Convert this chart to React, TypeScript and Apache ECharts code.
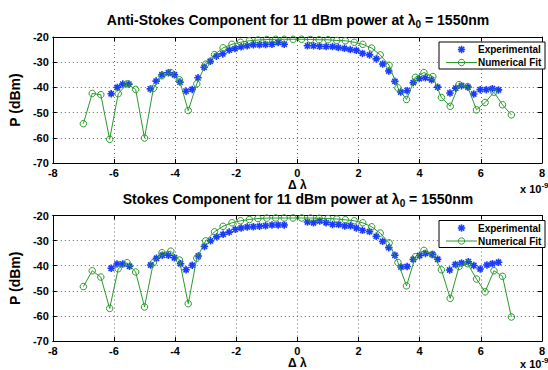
import React, { useEffect, useRef } from 'react';
import * as echarts from 'echarts';

// Δλ positions (×1e-9) of the numerical fit (50 points)
const fitX = [-7.0, -6.71, -6.43, -6.14, -5.86, -5.57, -5.29, -5.0, -4.71, -4.43, -4.14, -3.86, -3.57, -3.29, -3.0, -2.71, -2.43, -2.14, -1.86, -1.57, -1.29, -1.0, -0.71, -0.43, -0.14, 0.14, 0.43, 0.71, 1.0, 1.29, 1.57, 1.86, 2.14, 2.43, 2.71, 3.0, 3.29, 3.57, 3.86, 4.14, 4.43, 4.71, 5.0, 5.29, 5.57, 5.86, 6.14, 6.43, 6.71, 7.0];

const antiFitY = [-54.4, -42.4, -42.9, -60.6, -42.5, -38.6, -40.8, -60.1, -40.4, -35.4, -34.1, -37.0, -49.2, -38.6, -30.8, -27.0, -24.3, -22.9, -22.1, -21.5, -21.2, -21.0, -20.9, -20.9, -20.9, -20.9, -21.0, -21.1, -21.1, -21.4, -21.5, -22.1, -22.9, -24.4, -27.1, -31.2, -40.2, -44.8, -36.0, -34.1, -35.7, -44.0, -47.5, -38.9, -39.7, -48.9, -46.0, -41.9, -46.9, -50.9];

const stokesFitY = [-48.3, -42.0, -44.5, -57.0, -41.2, -38.8, -42.5, -56.4, -38.8, -34.8, -34.2, -37.7, -55.1, -37.0, -30.1, -26.5, -24.3, -22.9, -22.1, -21.6, -21.2, -21.05, -21.0, -21.0, -21.0, -21.0, -21.0, -21.1, -21.2, -21.4, -21.7, -22.1, -22.9, -24.5, -27.0, -30.9, -38.7, -48.0, -36.4, -33.9, -35.5, -41.6, -53.0, -40.3, -39.2, -45.3, -50.4, -42.0, -44.2, -60.4];

const antiExpX = [-6.09, -5.89, -5.71, -5.51, -4.81, -4.62, -4.43, -4.22, -4.02, -3.84, -3.64, -3.44, -3.25, -3.05, -2.85, -2.65, -2.44, -2.23, -2.04, -1.84, -1.64, -1.44, -1.24, -1.04, -0.83, -0.63, -0.43, 0.33, 0.53, 0.73, 0.94, 1.15, 1.34, 1.54, 1.73, 1.93, 2.13, 2.36, 2.58, 2.79, 2.99, 3.19, 3.38, 3.59, 3.79, 3.99, 4.19, 4.39, 4.59, 4.99, 5.18, 5.37, 5.58, 5.77, 5.98, 6.18, 6.38, 6.58];
const antiExpY = [-42.5, -40.0, -38.7, -38.7, -40.6, -37.5, -35.0, -34.2, -35.0, -37.9, -41.5, -40.8, -36.2, -32.0, -29.6, -27.6, -26.7, -25.2, -24.6, -23.9, -23.5, -23.1, -23.1, -23.0, -22.9, -22.2, -22.9, -23.5, -23.5, -23.7, -23.8, -23.8, -24.2, -24.5, -25.0, -25.3, -26.5, -27.1, -28.7, -30.7, -33.5, -37.6, -41.8, -41.3, -38.1, -36.5, -36.2, -37.0, -39.9, -42.2, -40.3, -39.3, -39.9, -42.6, -40.9, -40.9, -40.5, -41.0];

const stokesExpX = [-6.09, -5.9, -5.71, -5.49, -4.8, -4.61, -4.42, -4.22, -4.02, -3.82, -3.64, -3.44, -3.24, -3.04, -2.84, -2.64, -2.43, -2.23, -2.03, -1.84, -1.64, -1.44, -1.24, -1.04, -0.83, -0.63, -0.43, 0.33, 0.53, 0.73, 0.94, 1.15, 1.35, 1.55, 1.74, 1.93, 2.13, 2.36, 2.58, 2.79, 2.99, 3.19, 3.39, 3.59, 3.79, 4.0, 4.19, 4.41, 4.59, 4.98, 5.17, 5.37, 5.59, 5.77, 5.98, 6.2, 6.38, 6.58];
const stokesExpY = [-41.0, -39.3, -39.3, -40.2, -39.7, -37.0, -35.8, -35.8, -36.8, -39.2, -41.6, -39.8, -36.1, -32.3, -30.1, -28.5, -27.5, -26.6, -25.5, -25.0, -24.6, -24.5, -24.3, -24.1, -23.8, -23.8, -23.8, -22.6, -22.9, -22.2, -22.9, -23.6, -23.6, -24.2, -24.1, -25.0, -25.9, -26.4, -28.3, -30.3, -32.8, -35.8, -40.5, -40.3, -37.5, -35.9, -35.1, -35.5, -37.4, -41.7, -39.5, -38.9, -38.4, -39.9, -41.3, -39.7, -39.2, -38.6];

const titles = ['Anti-Stokes Component for 11 dBm power at λ{s|0} = 1550nm', 'Stokes Component for 11 dBm power at λ{s|0} = 1550nm'];
const legendNames = ['Experimental', 'Numerical Fit'];

const FONT = "'Liberation Sans', Arial, Helvetica, sans-serif";
const BLUE = '#1a3cff';
const GREEN = '#2a9a2a';
const STAR = 'path://M5 0L5 10M0 5L10 5M1.5 1.5L8.5 8.5M8.5 1.5L1.5 8.5';

const zip = (a: number[], b: number[]) => a.map((v, i) => [v, b[i]]);

function buildOption() {
  const grids = [
    { left: 48, top: 37, width: 500, height: 126 },
    { left: 48, top: 215.5, width: 500, height: 126 },
  ];
  const xAxis: any[] = [];
  const yAxis: any[] = [];
  const series: any[] = [];
  const graphic: any[] = [];
  const splitStyle = { type: [1, 3], color: '#666', width: 1 };
  grids.forEach((g, gi) => {
    xAxis.push({
      type: 'value', gridIndex: gi, min: -8, max: 8, interval: 2, position: 'bottom',
      axisLine: { show: true, onZero: false, lineStyle: { color: '#000', width: 1 } },
      axisTick: { show: true, inside: true, length: 4, lineStyle: { color: '#000' } },
      axisLabel: { color: '#000', fontWeight: 'bold', fontSize: 11, fontFamily: FONT, margin: 4 },
      splitLine: { show: true, lineStyle: splitStyle },
      name: 'Δ λ', nameLocation: 'middle', nameGap: 15,
      nameTextStyle: { color: '#000', fontWeight: 'bold', fontSize: 12, fontFamily: FONT },
    });
    xAxis.push({
      type: 'value', gridIndex: gi, min: -8, max: 8, interval: 2, position: 'top',
      axisLine: { show: true, onZero: false, lineStyle: { color: '#000', width: 1 } },
      axisTick: { show: true, inside: true, length: 4, lineStyle: { color: '#000' } },
      axisLabel: { show: false }, splitLine: { show: false },
    });
    yAxis.push({
      type: 'value', gridIndex: gi, min: -70, max: -20, interval: 10, position: 'left',
      axisLine: { show: true, onZero: false, lineStyle: { color: '#000', width: 1 } },
      axisTick: { show: true, inside: true, length: 4, lineStyle: { color: '#000' } },
      axisLabel: { color: '#000', fontWeight: 'bold', fontSize: 11, fontFamily: FONT, margin: 4 },
      splitLine: { show: true, lineStyle: splitStyle },
      name: 'P (dBm)', nameLocation: 'middle', nameGap: 26, nameRotate: 90,
      nameTextStyle: { color: '#000', fontWeight: 'bold', fontSize: 14, fontFamily: FONT },
    });
    yAxis.push({
      type: 'value', gridIndex: gi, min: -70, max: -20, interval: 10, position: 'right',
      axisLine: { show: true, onZero: false, lineStyle: { color: '#000', width: 1 } },
      axisTick: { show: true, inside: true, length: 4, lineStyle: { color: '#000' } },
      axisLabel: { show: false }, splitLine: { show: false },
    });
    const expData = gi === 0 ? zip(antiExpX, antiExpY) : zip(stokesExpX, stokesExpY);
    const fitData = gi === 0 ? zip(fitX, antiFitY) : zip(fitX, stokesFitY);
    series.push({
      type: 'scatter', name: legendNames[0], xAxisIndex: gi * 2, yAxisIndex: gi * 2,
      data: expData, symbol: STAR, symbolSize: 7.5, silent: true, z: 3,
      itemStyle: { color: BLUE, borderColor: BLUE, borderWidth: 1.6, opacity: 1 },
    });
    series.push({
      type: 'line', name: legendNames[1], xAxisIndex: gi * 2, yAxisIndex: gi * 2,
      data: fitData, symbol: 'circle', symbolSize: 6.5, showAllSymbol: true, silent: true, z: 4,
      lineStyle: { color: GREEN, width: 1 },
      itemStyle: { color: 'rgba(0,0,0,0)', borderColor: GREEN, borderWidth: 1 },
    });

    const dy = gi === 0 ? 0 : 178.5;
    // title
    graphic.push({
      type: 'text', x: 298, y: 20 + dy, z: 100,
      style: {
        text: titles[gi], fill: '#000', font: `bold 14px ${FONT}`,
        align: 'center', verticalAlign: 'middle',
        rich: { s: { fontSize: 10, fontWeight: 'bold', fontFamily: FONT, padding: [9, 0, 0, 0], fill: '#000' } },
      },
    });
    // exponent
    graphic.push({
      type: 'text', x: 520, y: gi === 0 ? 189 : 364, z: 100,
      style: {
        text: 'x 10{e|-9}', fill: '#000', font: `bold 11px ${FONT}`,
        align: 'left', verticalAlign: 'middle',
        rich: { e: { fontSize: 8, fontWeight: 'bold', fontFamily: FONT, padding: [0, 0, 8, 0], fill: '#000' } },
      },
    });
    // legend
    const lx = 439, ly = 42 + dy;
    graphic.push({ type: 'rect', z: 100, shape: { x: lx, y: ly, width: 106, height: 27 }, style: { fill: '#fff', stroke: '#000', lineWidth: 1 } });
    const sx = 461.5, sy = ly + 7.5, r = 3.7;
    [[0, -r, 0, r], [-r, 0, r, 0], [-r * 0.72, -r * 0.72, r * 0.72, r * 0.72], [r * 0.72, -r * 0.72, -r * 0.72, r * 0.72]].forEach((s) => {
      graphic.push({ type: 'line', z: 101, shape: { x1: sx + s[0], y1: sy + s[1], x2: sx + s[2], y2: sy + s[3] }, style: { stroke: BLUE, lineWidth: 1.6 } });
    });
    graphic.push({ type: 'text', z: 101, x: 478, y: sy, style: { text: legendNames[0], fill: '#000', font: `bold 10px ${FONT}`, verticalAlign: 'middle' } });
    const cy = ly + 20.5;
    graphic.push({ type: 'line', z: 101, shape: { x1: 446, y1: cy, x2: 477, y2: cy }, style: { stroke: GREEN, lineWidth: 1 } });
    graphic.push({ type: 'circle', z: 102, shape: { cx: 461.5, cy, r: 3.2 }, style: { fill: 'none', stroke: GREEN, lineWidth: 1 } });
    graphic.push({ type: 'text', z: 101, x: 478, y: cy, style: { text: legendNames[1], fill: '#000', font: `bold 10px ${FONT}`, verticalAlign: 'middle' } });
  });

  return {
    animation: false,
    backgroundColor: '#fff',
    grid: grids,
    xAxis,
    yAxis,
    series,
    graphic,
  };
}

export default function App() {
  const ref = useRef<HTMLDivElement>(null);
  useEffect(() => {
    document.body.style.margin = '0';
    const chart = echarts.init(ref.current!, null, { renderer: 'svg' });
    chart.setOption(buildOption() as any);
    return () => chart.dispose();
  }, []);
  return <div ref={ref} style={{ width: 548, height: 370 }} />;
}
